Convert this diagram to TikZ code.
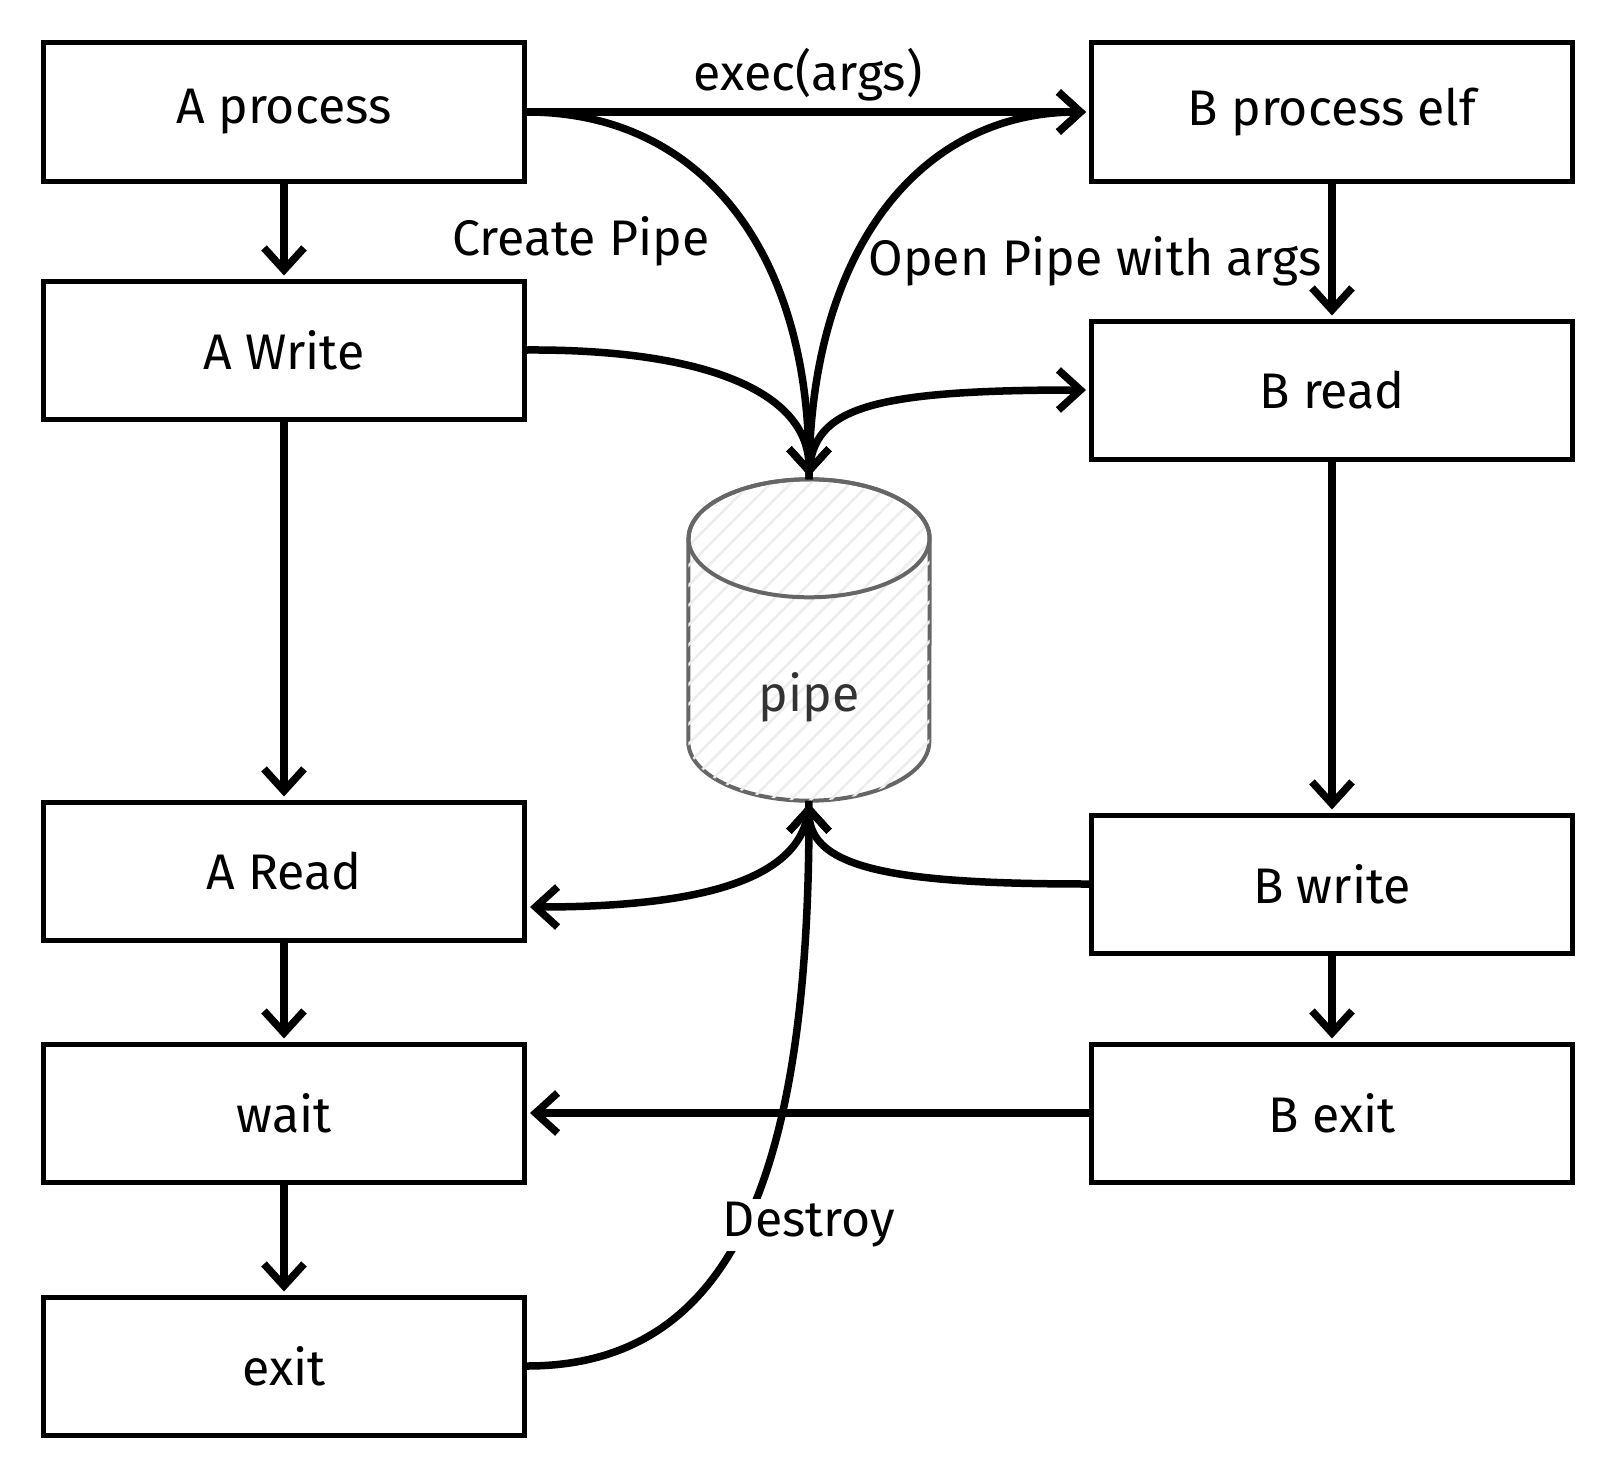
\documentclass[tikz,border=0pt]{standalone}
\usepackage{fontspec}
\setmainfont{Fira Sans}
\usetikzlibrary{arrows.meta,patterns.meta,backgrounds}
\tikzstyle{every node}=[font=\fontsize{50}{60}\selectfont]
\tikzstyle{proc}=[draw=black,line width=5pt,minimum width=481pt,minimum height=138pt,inner sep=0pt]
\tikzstyle{store}=[minimum width=241pt,minimum height=321pt,inner sep=0pt]
\tikzstyle{can}=[draw=black!60,line width=4pt,line join=round]
\tikzstyle{flow}=[line width=7.5pt,-{Straight Barb[length=22pt,width=40pt]},shorten >=3pt]
\tikzstyle{tag}=[inner sep=3pt]

\begin{document}
\begin{tikzpicture}[x=1pt,y=-1pt]
\useasboundingbox (0,0) rectangle (1612,1472);
\node[proc] (aproc) at (284,112) {A process};
\node[proc] (awrite) at (284,350) {A Write};
\node[proc] (aread) at (284,871) {A Read};
\node[proc] (await) at (284,1113) {wait};
\node[proc] (aexit) at (284,1366) {exit};
\node[proc] (bproc) at (1332,112) {B process elf};
\node[proc] (bread) at (1332,390) {B read};
\node[proc] (bwrite) at (1332,884) {B write};
\node[proc] (bexit) at (1332,1113) {B exit};
\node[store,label={[yshift=-57pt,text=black!80]center:pipe}] (pipe) at (809,640) {};

% the can behind the label
\begin{scope}[on background layer]
\path[can,fill=white,postaction={pattern={Lines[angle=45,distance=14pt,line width=2.5pt]},pattern color=black!7}]
  ([yshift=-59pt]pipe.north west) -- ([yshift=59pt]pipe.south west)
  arc[start angle=180,end angle=360,x radius=120.5pt,y radius=59pt]
  -- ([yshift=-59pt]pipe.north east)
  arc[start angle=0,end angle=180,x radius=120.5pt,y radius=59pt] -- cycle;
\draw[can] ([yshift=-59pt]pipe.north) ellipse[x radius=120.5pt,y radius=59pt];
\end{scope}

\draw[flow] (aproc) -- (awrite);
\draw[flow] (awrite) -- (aread);
\draw[flow] (aread) -- (await);
\draw[flow] (await) -- (aexit);
\draw[flow] (bproc) -- (bread);
\draw[flow] (bread) -- (bwrite);
\draw[flow] (bwrite) -- (bexit);
\draw[flow] (bexit) -- (await);
\draw[flow] (aproc.east) -- (bproc.west) node[tag,midway,above=4pt] (exec) {exec(args)};
\draw[flow] (aproc.east) .. controls (700,112) and (809,250) .. (pipe.north);
\draw[flow] (pipe.north) .. controls (809,250) and (920,112) .. (bproc.west);
\draw[flow] (awrite.east) .. controls (700,349) and (809,390) .. (pipe.north);
\draw[flow] (pipe.north) .. controls (809,410) and (860,390) .. (bread.west);
\draw[flow] (bwrite.west) .. controls (900,884) and (809,870) .. (pipe.south);
\draw[flow] (pipe.south) .. controls (809,880) and (700,907) .. ([yshift=-36pt]aread.east);
\draw[flow] (aexit.east) .. controls (730,1366) and (809,1180) .. (pipe.south);

\node[tag] (create) at (581,241) {Create Pipe};
\node[tag] (open) at (1095,261) {Open Pipe with args};
\node[tag,fill=white] (destroy) at (809,1225) {Destroy};
\end{tikzpicture}
\end{document}
